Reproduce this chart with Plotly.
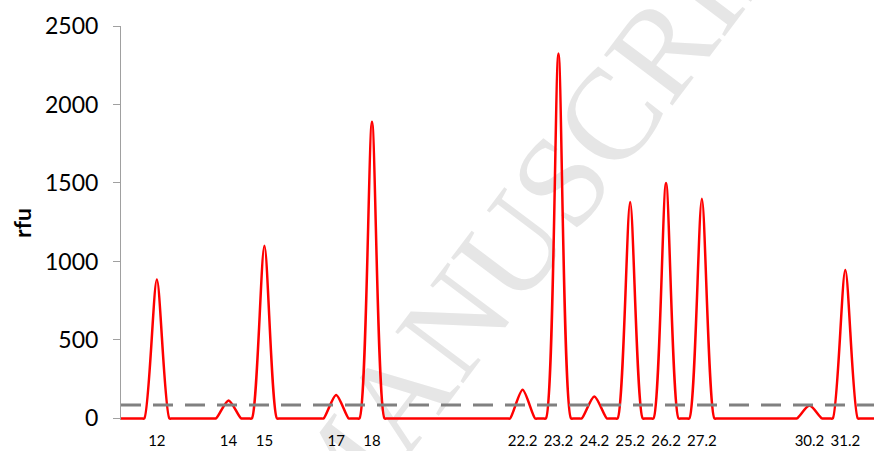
import plotly.graph_objects as go

# ---- data ----
allele_pos = [12, 14, 15, 17, 18, 22.2, 23.2, 24.2, 25.2, 26.2, 27.2, 30.2, 31.2]
allele_labels = ["12", "14", "15", "17", "18", "22.2", "23.2", "24.2", "25.2", "26.2", "27.2", "30.2", "31.2"]
peak_rfu = [885, 115, 1100, 150, 1890, 183, 2325, 140, 1378, 1500, 1400, 82, 945]
threshold_rfu = 85
x_range = [11, 32]
y_ticks = [0, 500, 1000, 1500, 2000, 2500]

# ---- peak glyph styling (half base width and baseline shoulder, in allele units) ----
HALF_W = 0.35
SHOULDER = 0.08

xs, ys = [x_range[0]], [0]
for p, h in zip(allele_pos, peak_rfu):
    xs += [p - HALF_W - SHOULDER, p - HALF_W, p, p + HALF_W, p + HALF_W + SHOULDER]
    ys += [0, 0, h, 0, 0]
xs.append(x_range[1]); ys.append(0)

fig = go.Figure()
fig.add_trace(go.Scatter(
    x=xs, y=ys, mode="lines",
    line=dict(color="#ff0000", width=2.5, shape="spline", smoothing=0.75),
    hoverinfo="skip", showlegend=False,
))
fig.add_trace(go.Scatter(
    x=x_range, y=[threshold_rfu, threshold_rfu], mode="lines",
    line=dict(color="#808080", width=3, dash="20px,12px"),
    hoverinfo="skip", showlegend=False,
))

# faint watermark, drawn beneath the traces
fig.add_shape(
    type="line", xref="paper", yref="paper",
    x0=0.478, y0=0.396, x1=0.637, y1=0.802,
    line=dict(color="rgba(0,0,0,0)", width=0),
    layer="below",
    label=dict(text="MANUSCRIPT", textposition="middle", yanchor="middle",
               textangle=-53,
               font=dict(family="Liberation Serif", size=130, color="#e6e6e6")),
)

fig.update_layout(
    width=874, height=451,
    margin=dict(l=121, r=0, t=26, b=31),
    paper_bgcolor="white", plot_bgcolor="white",
    font=dict(family="Lato", color="#000000"),
)
fig.update_xaxes(
    range=x_range, tickvals=allele_pos, ticktext=allele_labels,
    showgrid=False, zeroline=False, showline=False, ticks="",
    tickfont=dict(size=15), ticklabelstandoff=10,
)
fig.update_yaxes(
    range=[-10, 2500], tickvals=y_ticks,
    showgrid=False, zeroline=False,
    showline=True, linecolor="#a0a0a0", linewidth=1,
    ticks="outside", ticklen=7, tickcolor="#a0a0a0",
    tickfont=dict(size=23), ticklabelstandoff=10,
    title=dict(text="<b>rfu</b>", font=dict(size=23), standoff=6),
)

fig.write_html("out.html")
